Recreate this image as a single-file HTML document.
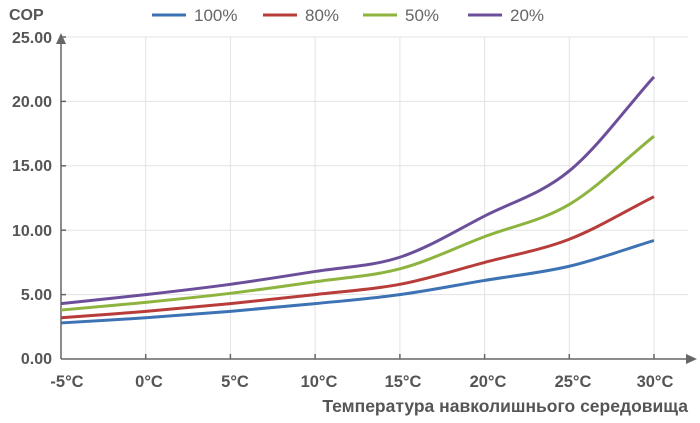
<!DOCTYPE html>
<html><head><meta charset="utf-8"><style>
body{margin:0;background:#fff;}
svg{display:block;font-family:"Liberation Sans",sans-serif;}
</style></head><body>
<svg width="700" height="423" xmlns="http://www.w3.org/2000/svg">
<g stroke="#e3e3e3" stroke-width="1">
<line x1="61" y1="37" x2="688" y2="37"/><line x1="61" y1="101.4" x2="688" y2="101.4"/>
<line x1="61" y1="165.8" x2="688" y2="165.8"/><line x1="61" y1="230.2" x2="688" y2="230.2"/>
<line x1="61" y1="294.6" x2="688" y2="294.6"/>
<line x1="145.7" y1="37" x2="145.7" y2="359"/><line x1="230.4" y1="37" x2="230.4" y2="359"/>
<line x1="315.1" y1="37" x2="315.1" y2="359"/><line x1="399.9" y1="37" x2="399.9" y2="359"/>
<line x1="484.6" y1="37" x2="484.6" y2="359"/><line x1="569.3" y1="37" x2="569.3" y2="359"/>
<line x1="654" y1="37" x2="654" y2="359"/>
</g>
<g stroke="#666" stroke-width="1.5">
<line x1="61" y1="40" x2="61" y2="359"/><line x1="61" y1="359" x2="688" y2="359"/>
<line x1="61" y1="37" x2="66" y2="37"/><line x1="61" y1="101.4" x2="66" y2="101.4"/><line x1="61" y1="165.8" x2="66" y2="165.8"/><line x1="61" y1="230.2" x2="66" y2="230.2"/><line x1="61" y1="294.6" x2="66" y2="294.6"/>
<line x1="145.7" y1="354" x2="145.7" y2="359"/><line x1="230.4" y1="354" x2="230.4" y2="359"/><line x1="315.1" y1="354" x2="315.1" y2="359"/><line x1="399.9" y1="354" x2="399.9" y2="359"/><line x1="484.6" y1="354" x2="484.6" y2="359"/><line x1="569.3" y1="354" x2="569.3" y2="359"/><line x1="654" y1="354" x2="654" y2="359"/>
</g>
<polygon points="61,33 56,44 66,44" fill="#666"/>
<polygon points="697,359 686,354 686,364" fill="#666"/>
<g fill="#555" font-size="16" font-weight="bold" text-anchor="end">
<text x="52" y="43">25.00</text><text x="52" y="107">20.00</text><text x="52" y="171">15.00</text>
<text x="52" y="236">10.00</text><text x="52" y="300">5.00</text><text x="52" y="364">0.00</text>
</g>
<text x="9" y="20" fill="#555" font-size="16" font-weight="bold">COP</text>
<g fill="#555" font-size="16.5" font-weight="bold" text-anchor="middle">
<text x="67" y="387">-5°C</text><text x="149" y="387">0°C</text><text x="235" y="387">5°C</text><text x="319" y="387">10°C</text><text x="403" y="387">15°C</text><text x="488" y="387">20°C</text><text x="573" y="387">25°C</text><text x="655" y="387">30°C</text>
</g>
<text x="688" y="412" fill="#555" font-size="17.5" font-weight="bold" text-anchor="end">Температура навколишнього середовища</text>
<g font-size="17" fill="#666">
<line x1="152" y1="15" x2="186" y2="15" stroke="#3d72b4" stroke-width="3"/><text x="194" y="21">100%</text>
<line x1="263" y1="15" x2="297" y2="15" stroke="#b83d3a" stroke-width="3"/><text x="305" y="21">80%</text>
<line x1="363" y1="15" x2="397" y2="15" stroke="#8db43e" stroke-width="3"/><text x="405" y="21">50%</text>
<line x1="468" y1="15" x2="502" y2="15" stroke="#6c4f9a" stroke-width="3"/><text x="510" y="21">20%</text>
</g>
<g fill="none" stroke-width="3">
<path stroke="#3d72b4" d="M61,322.94 C75.12,322.08 117.47,319.71 145.71,317.78 S202.18,313.70 230.42,311.34 S286.89,306.41 315.13,303.62 S371.6,298.47 399.84,294.6 S456.31,285.15 484.55,280.43 S541.02,272.92 569.26,266.26 S625.73,249.09 653.97,240.5"/>
<path stroke="#b83d3a" d="M61,317.78 C75.12,316.71 117.47,313.70 145.71,311.34 S202.18,306.41 230.42,303.62 S286.89,297.82 315.13,294.6 S371.6,289.67 399.84,284.3 S456.31,269.91 484.55,262.4 S541.02,250.17 569.26,239.22 S625.73,210.88 653.97,196.71"/>
<path stroke="#8db43e" d="M61,310.06 C75.12,308.77 117.47,305.12 145.71,302.33 S202.18,296.75 230.42,293.31 S286.89,285.80 315.13,281.72 S371.6,276.35 399.84,268.84 S456.31,247.37 484.55,236.64 S541.02,221.18 569.26,204.44 S625.73,158.93 653.97,136.18"/>
<path stroke="#6c4f9a" d="M61,303.62 C75.12,302.12 117.47,297.82 145.71,294.6 S202.18,288.16 230.42,284.3 S286.89,275.93 315.13,271.42 S371.6,266.48 399.84,257.25 S456.31,230.41 484.55,216.03 S541.02,194.13 569.26,170.95 S625.73,108.27 653.97,76.93"/>
</g>
</svg>
</body></html>
